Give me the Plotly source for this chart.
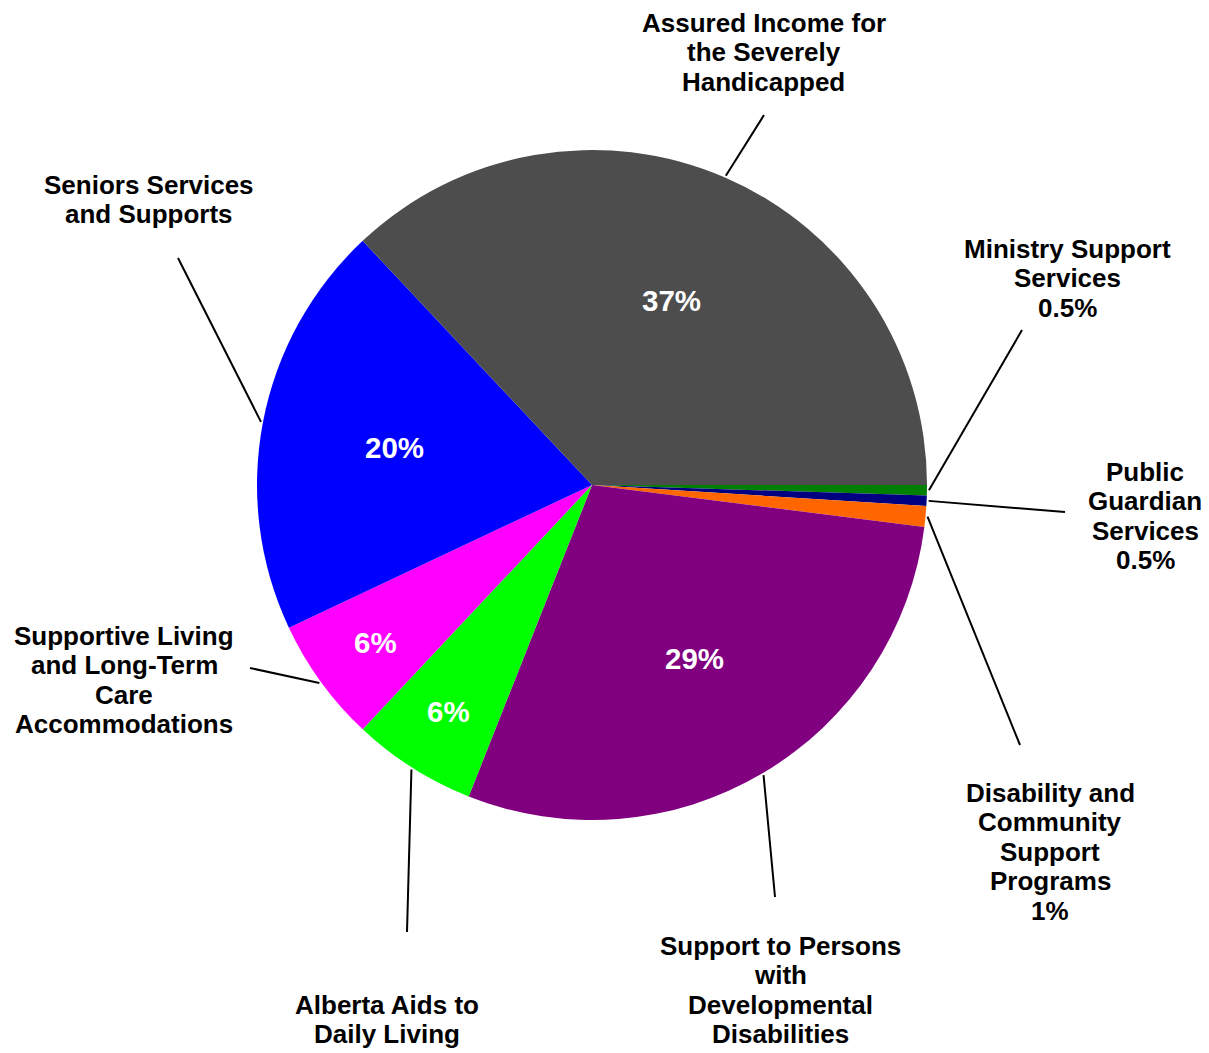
import numpy as np
import plotly.graph_objects as go

# ---- data ----
labels = [
    "Ministry Support Services",
    "Public Guardian Services",
    "Disability and Community Support Programs",
    "Support to Persons with Developmental Disabilities",
    "Alberta Aids to Daily Living",
    "Supportive Living and Long-Term Care Accommodations",
    "Seniors Services and Supports",
    "Assured Income for the Severely Handicapped",
]
values = [0.5, 0.5, 1, 29, 6, 6, 20, 37]
inside_text = ["", "", "", "29%", "6%", "6%", "20%", "37%"]
label_lines = [
    ["Ministry Support", "Services", "0.5%"],
    ["Public", "Guardian", "Services", "0.5%"],
    ["Disability and", "Community", "Support", "Programs", "1%"],
    ["Support to Persons", "with", "Developmental", "Disabilities"],
    ["Alberta Aids to", "Daily Living"],
    ["Supportive Living", "and Long-Term", "Care", "Accommodations"],
    ["Seniors Services", "and Supports"],
    ["Assured Income for", "the Severely", "Handicapped"],
]

# ---- styles / layout (page pixel positions) ----
colors = ["#008000", "#000080", "#FF6600", "#800080", "#00FF00", "#FF00FF", "#0000FF", "#4D4D4D"]
PAGE_OFF = 8  # default body margin of the html page
W, H = 1209 - PAGE_OFF, 1053 - PAGE_OFF
CX, CY, R = 592, 485, 335
label_pos = [(1067, 249), (1145, 472), (1050, 793), (780, 946), (387, 1005), (124, 636), (149, 185), (764, 23)]
leader_end = [(1022, 330), (1065, 512), (1020, 745), (775, 897), (407, 932), (250, 668), (178, 258), (764, 115)]
inside_r = [0, 0, 0, 0.6, 0.8, 0.8, 0.6, 0.6]  # radial placement of percent text
LINE_H = 29.4
FONT = "Liberation Sans, Arial, sans-serif"


def px(x):
    return (x - PAGE_OFF) / W


def py(y):
    return 1 - (y - PAGE_OFF) / H


fig = go.Figure(
    go.Pie(
        labels=labels,
        values=values,
        textinfo="none",
        marker=dict(colors=colors, line=dict(width=0)),
        sort=False,
        direction="clockwise",
        rotation=90,
        hoverinfo="label+percent",
        showlegend=False,
        domain=dict(x=[px(CX - R), px(CX + R)], y=[py(CY + R), py(CY - R)]),
    )
)

annotations = []
shapes = []
total = sum(values)
cum = 0
for i, v in enumerate(values):
    mid = 2 * np.pi * (cum + v / 2) / total  # clockwise from east
    cum += v
    # percent text inside the slice
    if inside_text[i]:
        tx = CX + R * inside_r[i] * np.cos(mid)
        ty = CY + R * inside_r[i] * np.sin(mid)
        annotations.append(dict(
            x=px(tx), y=py(ty), xref="paper", yref="paper",
            text=inside_text[i], showarrow=False, xanchor="center", yanchor="middle",
            borderpad=0,
            font=dict(family=FONT, size=29.5, color="white", weight="bold"),
        ))
    # leader line
    sx = CX + (R + 2) * np.cos(mid)
    sy = CY + (R + 2) * np.sin(mid)
    ex, ey = leader_end[i]
    shapes.append(dict(type="line", xref="paper", yref="paper",
                       x0=px(sx), y0=py(sy), x1=px(ex), y1=py(ey),
                       line=dict(color="black", width=2)))
    # outside category label
    lx, ly = label_pos[i]
    for j, t in enumerate(label_lines[i]):
        annotations.append(dict(
            x=px(lx), y=py(ly + j * LINE_H), xref="paper", yref="paper",
            text=t, showarrow=False, xanchor="center", yanchor="middle",
            borderpad=0,
            font=dict(family=FONT, size=26, color="black", weight="bold"),
        ))

fig.update_layout(
    width=W, height=H,
    margin=dict(l=0, r=0, t=0, b=0),
    paper_bgcolor="white", plot_bgcolor="white",
    annotations=annotations, shapes=shapes,
)

fig.write_html("out.html")
